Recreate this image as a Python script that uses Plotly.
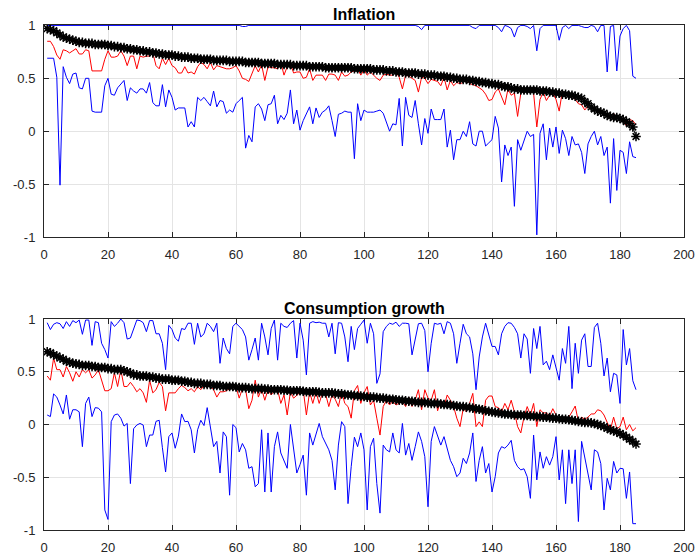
import plotly.graph_objects as go

# Country index (1..185), sorted by the point estimate
country_idx = list(range(1, 186))

x_ticks = [0, 20, 40, 60, 80, 100, 120, 140, 160, 180, 200]
y_ticks = [-1, -0.5, 0, 0.5, 1]
y_tick_text = ["-1", "-0.5", "0", "0.5", "1"]

# ---- Inflation panel ----
infl_point = [
    0.97, 0.96, 0.95, 0.93, 0.91, 0.89, 0.88, 0.87, 0.86, 0.85,
    0.84, 0.84, 0.83, 0.83, 0.83, 0.82, 0.82, 0.82, 0.82, 0.81,
    0.81, 0.80, 0.80, 0.79, 0.79, 0.78, 0.78, 0.77, 0.77, 0.76,
    0.76, 0.75, 0.75, 0.74, 0.74, 0.73, 0.73, 0.72, 0.72, 0.72,
    0.71, 0.71, 0.70, 0.70, 0.70, 0.69, 0.69, 0.69, 0.68, 0.68,
    0.68, 0.68, 0.67, 0.67, 0.67, 0.67, 0.67, 0.66, 0.66, 0.66,
    0.66, 0.66, 0.65, 0.65, 0.65, 0.65, 0.65, 0.64, 0.64, 0.64,
    0.64, 0.64, 0.63, 0.63, 0.63, 0.63, 0.63, 0.62, 0.62, 0.62,
    0.62, 0.62, 0.61, 0.61, 0.61, 0.61, 0.61, 0.60, 0.60, 0.60,
    0.60, 0.60, 0.60, 0.60, 0.60, 0.60, 0.59, 0.59, 0.59, 0.59,
    0.59, 0.59, 0.58, 0.58, 0.58, 0.58, 0.57, 0.57, 0.57, 0.56,
    0.56, 0.56, 0.55, 0.55, 0.55, 0.55, 0.54, 0.54, 0.54, 0.53,
    0.53, 0.53, 0.52, 0.52, 0.52, 0.51, 0.51, 0.50, 0.50, 0.49,
    0.49, 0.49, 0.48, 0.48, 0.47, 0.47, 0.46, 0.46, 0.45, 0.45,
    0.44, 0.44, 0.43, 0.42, 0.42, 0.41, 0.40, 0.40, 0.39, 0.39,
    0.39, 0.39, 0.39, 0.39, 0.38, 0.38, 0.38, 0.37, 0.37, 0.36,
    0.36, 0.35, 0.35, 0.34, 0.34, 0.33, 0.32, 0.31, 0.28, 0.26,
    0.23, 0.21, 0.19, 0.18, 0.17, 0.15, 0.14, 0.13, 0.13, 0.12,
    0.11, 0.09, 0.07, 0.04, -0.05,
]

infl_alt = [
    0.85, 0.85, 0.80, 0.72, 0.68, 0.77, 0.76, 0.74, 0.76, 0.78,
    0.73, 0.73, 0.77, 0.76, 0.57, 0.57, 0.57, 0.57, 0.68, 0.76,
    0.70, 0.70, 0.71, 0.76, 0.71, 0.62, 0.71, 0.71, 0.59, 0.71,
    0.70, 0.71, 0.71, 0.74, 0.62, 0.59, 0.69, 0.63, 0.69, 0.62,
    0.60, 0.55, 0.55, 0.61, 0.55, 0.56, 0.54, 0.61, 0.65, 0.63,
    0.59, 0.65, 0.58, 0.62, 0.61, 0.60, 0.59, 0.59, 0.60, 0.62,
    0.57, 0.50, 0.49, 0.47, 0.55, 0.62, 0.56, 0.63, 0.48, 0.61,
    0.60, 0.60, 0.59, 0.65, 0.53, 0.61, 0.64, 0.55, 0.56, 0.56,
    0.50, 0.51, 0.59, 0.48, 0.53, 0.53, 0.53, 0.48, 0.54, 0.54,
    0.53, 0.48, 0.56, 0.52, 0.53, 0.56, 0.57, 0.59, 0.53, 0.58,
    0.53, 0.56, 0.53, 0.50, 0.48, 0.53, 0.54, 0.53, 0.53, 0.56,
    0.51, 0.40, 0.53, 0.52, 0.50, 0.48, 0.37, 0.51, 0.50, 0.45,
    0.49, 0.48, 0.47, 0.43, 0.51, 0.39, 0.48, 0.43, 0.46, 0.45,
    0.46, 0.49, 0.45, 0.44, 0.43, 0.41, 0.39, 0.35, 0.29, 0.30,
    0.37, 0.40, 0.32, 0.25, 0.40, 0.34, 0.36, 0.14, 0.36, 0.38,
    0.37, 0.38, 0.36, 0.04, 0.30, 0.37, 0.29, 0.34, 0.36, 0.30,
    0.19, 0.38, 0.35, 0.34, 0.33, 0.30, 0.26, 0.25, 0.20, 0.24,
    0.24, 0.22, 0.20, 0.18, 0.16, 0.15, 0.12, 0.17, 0.12, 0.13,
    0.10, 0.05, 0.11, 0.10, 0.06,
]

infl_upper = [
    1.00, 1.00, 1.00, 1.00, 1.00, 1.00, 1.00, 1.00, 1.00, 1.00,
    1.00, 1.00, 1.00, 1.00, 1.00, 1.00, 1.00, 1.00, 1.00, 1.00,
    1.00, 1.00, 1.00, 1.00, 1.00, 1.00, 1.00, 1.00, 1.00, 1.00,
    1.00, 1.00, 1.00, 1.00, 1.00, 1.00, 1.00, 1.00, 1.00, 1.00,
    1.00, 1.00, 1.00, 1.00, 1.00, 1.00, 1.00, 1.00, 1.00, 1.00,
    1.00, 1.00, 1.00, 1.00, 1.00, 1.00, 1.00, 1.00, 1.00, 1.00,
    1.00, 0.99, 0.99, 1.00, 1.00, 1.00, 1.00, 1.00, 1.00, 1.00,
    1.00, 1.00, 1.00, 1.00, 1.00, 1.00, 1.00, 1.00, 1.00, 1.00,
    1.00, 1.00, 1.00, 1.00, 1.00, 1.00, 1.00, 1.00, 1.00, 1.00,
    1.00, 1.00, 1.00, 1.00, 1.00, 1.00, 1.00, 1.00, 1.00, 1.00,
    1.00, 1.00, 1.00, 1.00, 1.00, 1.00, 1.00, 1.00, 1.00, 1.00,
    1.00, 1.00, 1.00, 1.00, 1.00, 1.00, 0.99, 0.96, 1.00, 1.00,
    1.00, 1.00, 1.00, 1.00, 1.00, 1.00, 1.00, 1.00, 1.00, 1.00,
    1.00, 1.00, 1.00, 0.98, 0.97, 1.00, 1.00, 1.00, 1.00, 1.00,
    1.00, 0.98, 0.94, 1.00, 0.99, 0.97, 0.89, 0.98, 1.00, 1.00,
    0.99, 0.97, 1.00, 0.76, 0.97, 1.00, 1.00, 1.00, 1.00, 1.00,
    0.86, 0.98, 1.00, 0.97, 1.00, 1.00, 1.00, 0.99, 0.98, 0.98,
    1.00, 0.99, 0.94, 1.00, 1.00, 0.56, 0.99, 1.00, 0.57, 0.90,
    0.97, 1.00, 0.95, 0.52, 0.50,
]

infl_lower = [
    0.69, 0.69, 0.69, 0.51, -0.51, 0.61, 0.51, 0.45, 0.54, 0.55,
    0.41, 0.40, 0.50, 0.50, 0.19, 0.18, 0.18, 0.18, 0.43, 0.50,
    0.35, 0.34, 0.41, 0.45, 0.48, 0.29, 0.41, 0.38, 0.36, 0.40,
    0.40, 0.36, 0.46, 0.27, 0.24, 0.24, 0.44, 0.23, 0.39, 0.32,
    0.20, 0.22, 0.22, 0.22, 0.04, 0.09, 0.04, 0.32, 0.29, 0.32,
    0.28, 0.24, 0.38, 0.23, 0.29, 0.28, 0.17, 0.20, 0.18, 0.26,
    0.29, 0.32, -0.16, -0.04, -0.10, 0.23, 0.26, 0.21, 0.10, 0.25,
    0.26, 0.34, 0.07, 0.15, 0.11, 0.17, 0.39, 0.07, 0.20, 0.01,
    0.10, 0.17, 0.23, 0.07, 0.22, 0.13, 0.18, 0.20, 0.24, 0.10,
    -0.05, 0.16, 0.17, 0.19, 0.18, 0.18, -0.26, 0.26, 0.10, 0.20,
    0.18, 0.18, 0.18, 0.19, 0.20, 0.17, 0.08, 0.00, 0.07, 0.06,
    0.31, -0.14, 0.32, 0.15, 0.13, 0.29, 0.07, -0.13, 0.12, -0.02,
    0.21, 0.11, 0.11, 0.11, 0.21, -0.15, 0.01, -0.27, -0.08, -0.08,
    0.00, -0.05, 0.09, -0.12, -0.14, 0.00, 0.00, -0.14, -0.11, -0.08,
    0.14, 0.03, -0.48, -0.13, -0.23, -0.15, -0.71, -0.08, -0.18, -0.08,
    0.00, -0.05, -0.03, -0.98, -0.02, 0.07, -0.27, 0.03, -0.15, 0.04,
    -0.21, 0.01, -0.07, -0.23, -0.05, -0.13, -0.12, -0.20, -0.40, -0.12,
    -0.05, 0.00, -0.13, -0.05, -0.23, -0.15, -0.68, -0.07, -0.56, -0.18,
    -0.20, -0.40, -0.10, -0.24, -0.25,
]

# ---- Consumption growth panel ----
cons_point = [
    0.69, 0.68, 0.66, 0.65, 0.63, 0.62, 0.60, 0.59, 0.58, 0.575,
    0.57, 0.56, 0.56, 0.56, 0.55, 0.55, 0.54, 0.54, 0.54, 0.53,
    0.53, 0.52, 0.52, 0.52, 0.51, 0.50, 0.49, 0.47, 0.47, 0.46,
    0.46, 0.46, 0.45, 0.45, 0.44, 0.44, 0.43, 0.43, 0.43, 0.42,
    0.42, 0.42, 0.41, 0.41, 0.40, 0.40, 0.39, 0.39, 0.39, 0.38,
    0.38, 0.38, 0.37, 0.37, 0.37, 0.36, 0.36, 0.36, 0.36, 0.355,
    0.35, 0.35, 0.35, 0.345, 0.34, 0.34, 0.34, 0.34, 0.335, 0.335,
    0.33, 0.33, 0.33, 0.33, 0.325, 0.325, 0.32, 0.32, 0.32, 0.32,
    0.315, 0.31, 0.31, 0.31, 0.31, 0.305, 0.30, 0.30, 0.30, 0.30,
    0.295, 0.29, 0.29, 0.285, 0.28, 0.28, 0.275, 0.27, 0.27, 0.265,
    0.26, 0.26, 0.26, 0.255, 0.25, 0.25, 0.245, 0.24, 0.24, 0.235,
    0.23, 0.23, 0.225, 0.22, 0.22, 0.215, 0.21, 0.21, 0.21, 0.205,
    0.20, 0.20, 0.20, 0.195, 0.19, 0.19, 0.185, 0.18, 0.175, 0.17,
    0.17, 0.165, 0.16, 0.155, 0.15, 0.145, 0.14, 0.13, 0.125, 0.12,
    0.115, 0.11, 0.105, 0.10, 0.10, 0.095, 0.09, 0.09, 0.09, 0.085,
    0.085, 0.08, 0.08, 0.075, 0.075, 0.07, 0.07, 0.065, 0.06, 0.06,
    0.055, 0.05, 0.05, 0.045, 0.04, 0.035, 0.03, 0.025, 0.02, 0.02,
    0.015, 0.01, 0.00, -0.01, -0.02, -0.035, -0.05, -0.06, -0.07, -0.085,
    -0.10, -0.12, -0.14, -0.16, -0.185,
]

cons_alt = [
    0.46, 0.42, 0.63, 0.52, 0.52, 0.45, 0.55, 0.49, 0.41, 0.50,
    0.45, 0.52, 0.49, 0.52, 0.44, 0.47, 0.52, 0.43, 0.32, 0.32,
    0.34, 0.49, 0.36, 0.52, 0.36, 0.36, 0.40, 0.36, 0.31, 0.34,
    0.30, 0.21, 0.42, 0.30, 0.33, 0.40, 0.36, 0.13, 0.30, 0.30,
    0.30, 0.34, 0.37, 0.35, 0.32, 0.34, 0.31, 0.36, 0.33, 0.37,
    0.36, 0.36, 0.33, 0.26, 0.31, 0.31, 0.32, 0.34, 0.36, 0.36,
    0.25, 0.34, 0.33, 0.15, 0.23, 0.42, 0.26, 0.34, 0.23, 0.33,
    0.28, 0.32, 0.33, 0.20, 0.28, 0.09, 0.31, 0.25, 0.28, 0.30,
    0.33, 0.09, 0.31, 0.20, 0.31, 0.20, 0.30, 0.29, 0.17, 0.28,
    0.24, 0.17, 0.31, 0.20, 0.17, 0.06, 0.32, 0.37, 0.20, 0.30,
    0.36, 0.185, 0.23, 0.06, -0.10, 0.17, 0.23, 0.185, 0.22, 0.185,
    0.20, 0.22, 0.17, 0.26, 0.17, 0.23, 0.33, 0.14, 0.33, 0.25,
    0.23, 0.33, 0.13, 0.23, 0.17, 0.28, 0.23, 0.17, 0.06, -0.02,
    0.15, 0.12, 0.20, 0.295, -0.02, 0.025, -0.02, 0.23, 0.27, 0.27,
    0.17, 0.16, 0.12, 0.20, 0.14, 0.23, 0.12, -0.02, -0.08, 0.07,
    0.17, 0.09, 0.20, -0.02, 0.14, 0.11, 0.11, 0.08, 0.15, 0.09,
    0.06, 0.07, 0.04, 0.07, 0.12, 0.175, 0.027, 0.07, 0.05, 0.07,
    0.10, 0.10, 0.14, 0.13, 0.09, 0.01, -0.05, 0.07, -0.04, -0.02,
    0.07, -0.05, 0.00, -0.06, -0.03,
]

cons_upper = [
    0.965, 0.90, 0.95, 0.965, 0.955, 0.91, 0.975, 0.93, 0.985, 0.965,
    0.99, 0.855, 0.99, 0.99, 0.75, 0.975, 0.965, 0.77, 0.71, 0.63,
    0.975, 0.93, 0.96, 1.00, 0.965, 0.81, 0.82, 0.90, 0.99, 0.985,
    0.965, 0.88, 0.985, 0.985, 0.86, 0.86, 0.77, 0.52, 0.94, 0.90,
    0.82, 0.79, 0.91, 0.90, 0.96, 0.96, 0.76, 0.96, 0.83, 0.86,
    0.96, 0.93, 0.88, 0.96, 0.58, 0.82, 0.72, 0.67, 0.93, 0.96,
    0.93, 0.90, 0.83, 0.61, 0.71, 0.82, 0.61, 0.96, 0.83, 0.66,
    0.91, 0.99, 0.61, 0.96, 0.93, 0.92, 0.96, 0.985, 0.63, 0.96,
    0.80, 0.47, 0.96, 0.975, 0.965, 0.97, 0.96, 0.96, 0.83, 0.96,
    0.67, 0.965, 0.96, 0.83, 0.595, 0.93, 0.71, 0.91, 0.95, 0.99,
    0.77, 0.96, 0.86, 0.39, 0.48, 0.88, 0.93, 0.96, 0.95, 0.97,
    0.93, 0.96, 0.96, 0.955, 0.66, 0.82, 0.955, 0.96, 0.89, 0.50,
    0.77, 0.96, 0.95, 0.96, 0.86, 0.975, 0.96, 0.86, 0.58, 0.77,
    0.95, 0.86, 0.83, 0.67, 0.33, 0.64, 0.83, 0.96, 0.86, 0.74,
    0.74, 0.66, 0.86, 0.93, 0.965, 0.96, 0.92, 0.86, 0.63, 0.86,
    0.81, 0.485, 0.91, 0.72, 0.93, 0.565, 0.60, 0.52, 0.66, 0.55,
    0.42, 0.72, 0.58, 0.93, 0.34, 0.77, 0.485, 0.80, 0.86, 0.55,
    0.55, 0.92, 0.96, 0.77, 0.46, 0.63, 0.31, 0.485, 0.47, 0.20,
    0.90, 0.565, 0.72, 0.415, 0.33,
]

cons_lower = [
    0.09, 0.075, 0.29, 0.26, 0.185, 0.10, 0.28, 0.05, 0.14, 0.14,
    0.12, -0.21, 0.20, 0.26, 0.075, 0.16, 0.155, 0.12, -0.81, -0.90,
    0.027, 0.09, 0.10, 0.06, -0.015, 0.01, -0.56, -0.04, -0.005, 0.01,
    -0.005, -0.21, -0.10, -0.10, 0.03, 0.04, -0.22, -0.45, -0.115, -0.08,
    -0.225, -0.11, 0.10, 0.027, 0.03, -0.05, -0.27, -0.05, 0.04, -0.01,
    0.16, -0.036, -0.21, -0.16, -0.46, -0.07, -0.115, -0.67, 0.00, -0.03,
    -0.26, -0.18, -0.24, -0.415, -0.40, -0.59, -0.56, -0.05, -0.64, -0.08,
    -0.64, -0.21, -0.07, -0.27, -0.34, -0.415, 0.00, -0.21, -0.46, -0.38,
    -0.29, -0.67, -0.08, -0.195, -0.08, 0.01, -0.115, -0.18, -0.24, -0.34,
    -0.62, -0.195, 0.027, -0.02, -0.75, -0.40, -0.12, -0.21, -0.08, -0.24,
    -0.81, -0.21, -0.13, -0.56, -0.84, -0.195, -0.24, -0.26, -0.08, -0.24,
    -0.27, 0.01, -0.29, -0.18, -0.34, -0.21, -0.07, -0.16, -0.305, -0.78,
    -0.16, -0.02, -0.115, -0.195, -0.115, -0.24, -0.34, -0.40, -0.495, -0.46,
    -0.32, -0.37, -0.27, -0.08, -0.54, -0.34, -0.21, -0.46, -0.37, -0.64,
    -0.495, -0.27, -0.21, -0.225, -0.195, -0.15, -0.34, -0.40, -0.43, -0.42,
    -0.495, -0.70, -0.10, -0.525, -0.26, -0.415, -0.305, -0.385, -0.305, -0.115,
    -0.525, -0.24, -0.75, -0.24, -0.56, -0.24, -0.92, -0.16, -0.305, -0.45,
    -0.62, -0.24, -0.26, -0.37, -0.81, -0.51, -0.62, -0.35, -0.46, -0.415,
    -0.42, -0.70, -0.45, -0.94, -0.94,
]

panel_titles = ["Inflation", "Consumption growth"]

BLUE = "rgb(0,0,255)"
RED = "rgb(255,0,0)"
AXIS_COLOR = "#262626"
GRID_COLOR = "#e4e4e4"
FONT = "Liberation Sans, Arial, Helvetica, sans-serif"

fig = go.Figure()


def add_panel(point, alt, upper, lower, xa, ya):
    for series, color in ((lower, BLUE), (upper, BLUE), (alt, RED)):
        fig.add_trace(go.Scatter(
            x=country_idx, y=series, mode="lines",
            line=dict(color=color, width=1),
            xaxis=xa, yaxis=ya, showlegend=False, hoverinfo="skip",
        ))
    fig.add_trace(go.Scatter(
        x=country_idx, y=point, mode="lines+markers",
        line=dict(color="black", width=1),
        marker=dict(symbol="asterisk-open", size=8,
                    line=dict(color="black", width=1.5)),
        xaxis=xa, yaxis=ya, showlegend=False, hoverinfo="skip",
    ))


add_panel(infl_point, infl_alt, infl_upper, infl_lower, "x", "y")
add_panel(cons_point, cons_alt, cons_upper, cons_lower, "x2", "y2")

axis_common = dict(
    showline=True, linecolor=AXIS_COLOR, linewidth=1, mirror="ticks",
    ticks="inside", ticklen=5, tickwidth=1, tickcolor=AXIS_COLOR,
    showgrid=True, gridcolor=GRID_COLOR, gridwidth=1, zeroline=False,
    tickfont=dict(family=FONT, size=13, color=AXIS_COLOR),
    layer="below traces", automargin=False,
)

x_common = dict(axis_common, range=[0, 200], tickvals=x_ticks,
                ticktext=[str(v) for v in x_ticks], ticklabelstandoff=5)
y_common = dict(axis_common, tickvals=y_ticks,
                ticktext=y_tick_text, ticklabelstandoff=5)

fig.update_layout(
    autosize=False,
    width=698, height=554,
    margin=dict(l=44, r=14, t=25, b=24),
    paper_bgcolor="white", plot_bgcolor="white",
    xaxis=dict(x_common, domain=[0, 1], anchor="y"),
    # a hair of headroom keeps the bound sitting at 1 visible along the frame
    yaxis=dict(y_common, range=[-1, 1.004], domain=[0.5802, 1], anchor="x"),
    xaxis2=dict(x_common, domain=[0, 1], anchor="y2"),
    yaxis2=dict(y_common, range=[-1, 1], domain=[0, 0.4178], anchor="x2"),
    annotations=[
        dict(text="<b>%s</b>" % panel_titles[0], x=0.5, y=1.0,
             xref="paper", yref="paper", xanchor="center", yanchor="bottom",
             yshift=0, showarrow=False,
             font=dict(family=FONT, size=16, color="black")),
        dict(text="<b>%s</b>" % panel_titles[1], x=0.5, y=0.4178,
             xref="paper", yref="paper", xanchor="center", yanchor="bottom",
             yshift=0, showarrow=False,
             font=dict(family=FONT, size=16, color="black")),
    ],
)

fig.write_html("out.html", config={"responsive": False})
